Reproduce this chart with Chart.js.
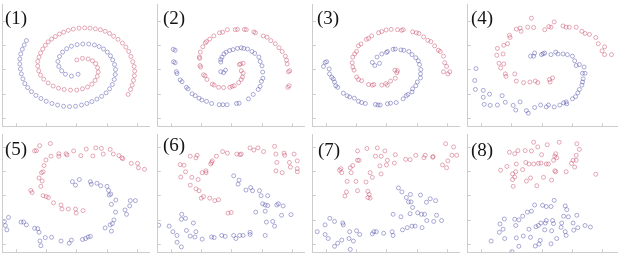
<!DOCTYPE html>
<html>
<head>
<meta charset="utf-8">
<script src="https://cdn.jsdelivr.net/npm/chart.js@4"></script>
<style>
  body { margin: 0; background: #fff; width: 621px; height: 262px; position: relative; overflow: hidden; }
  .panel { position: absolute; }
  .lbl { position: absolute; font-family: "Liberation Serif", serif; font-size: 19px; line-height: 1; color: #151515; }
</style>
</head>
<body>
<script>
// point positions (units = 1/3 px, origin at each panel's crop corner)
const red1 = [[395,288],[403,272],[408,258],[412,243],[415,228],[416,213],[414,198],[410,183],[404,166],[397,150],[388,136],[377,123],[363,111],[349,101],[336,92],[322,85],[307,80],[291,77],[274,75],[257,74],[239,75],[221,78],[205,82],[190,88],[177,94],[164,102],[152,110],[141,119],[132,130],[124,142],[117,155],[112,168],[108,182],[108,197],[111,212],[117,226],[127,239],[141,251],[157,261],[174,268],[192,272],[212,274],[232,274],[250,270],[266,264],[280,255],[290,243],[297,230],[300,216],[298,202],[292,189],[282,180],[268,174],[250,172],[232,177]];
const blue1 = [[72,115],[65,129],[59,143],[54,158],[51,174],[51,190],[53,206],[56,222],[61,238],[67,253],[76,266],[88,279],[102,291],[118,301],[135,310],[153,317],[171,322],[190,326],[209,327],[228,326],[247,322],[264,317],[280,311],[296,303],[311,294],[325,283],[336,270],[345,256],[351,240],[354,224],[355,208],[352,192],[346,177],[339,164],[329,152],[317,142],[303,134],[288,129],[270,126],[251,126],[233,128],[215,133],[200,141],[187,152],[177,166],[172,182],[175,198],[184,212],[196,223],[215,229],[236,223]];

const red2 = [[410,265],[414,260],[412,215],[416,212],[408,190],[406,178],[402,165],[392,150],[382,138],[370,125],[356,115],[344,104],[332,100],[302,87],[307,90],[278,80],[272,79],[250,79],[243,80],[218,80],[203,88],[193,90],[175,100],[162,110],[152,118],[148,122],[140,135],[132,152],[129,168],[130,172],[131,195],[133,200],[142,225],[147,228],[153,240],[170,255],[176,258],[190,265],[206,266],[226,265],[233,262],[240,260],[254,250],[262,240],[266,232],[268,220],[262,212],[260,190],[268,188],[256,192]];
const blue2 = [[46,143],[52,146],[47,183],[52,186],[56,215],[58,221],[68,241],[74,247],[88,265],[93,270],[106,286],[116,292],[128,300],[137,306],[152,310],[168,317],[192,321],[204,321],[217,321],[247,317],[255,316],[285,302],[300,288],[316,272],[322,262],[326,246],[331,236],[330,216],[328,196],[322,182],[318,168],[305,156],[296,150],[282,142],[270,140],[262,138],[250,140],[236,144],[225,147],[214,152],[207,158],[201,168],[197,176],[197,184],[197,215],[206,218],[212,210]];

const red3 = [[418,215],[432,222],[438,215],[428,198],[422,186],[418,165],[408,150],[402,146],[390,132],[378,118],[368,114],[355,103],[340,92],[332,90],[320,87],[290,80],[285,82],[272,80],[252,79],[236,81],[222,86],[212,90],[190,100],[180,108],[173,111],[156,126],[148,132],[142,150],[136,158],[130,168],[128,186],[130,200],[134,210],[142,232],[148,240],[158,244],[180,256],[192,258],[197,256],[222,258],[235,253],[240,258],[250,245],[265,236],[270,218],[264,210],[272,212]];
const blue3 = [[42,185],[47,183],[37,198],[55,206],[56,222],[63,233],[68,238],[72,248],[76,260],[82,265],[100,284],[112,292],[120,296],[135,300],[148,310],[158,314],[170,317],[202,320],[210,322],[217,322],[240,318],[250,316],[268,314],[290,302],[300,292],[305,288],[318,280],[320,270],[330,260],[335,248],[345,235],[345,222],[346,208],[342,192],[338,180],[330,170],[318,160],[308,150],[292,146],[283,145],[265,142],[258,143],[240,150],[237,153],[222,158],[207,168],[192,185],[200,195],[215,188]];

const red4 = [[208,43],[160,78],[172,75],[175,85],[196,72],[215,73],[250,80],[263,70],[270,72],[280,55],[308,68],[318,72],[328,72],[350,72],[368,85],[378,92],[392,95],[412,105],[420,125],[440,135],[432,148],[440,160],[462,160],[138,98],[140,105],[120,130],[132,125],[100,140],[98,162],[118,158],[105,188],[120,190],[110,203],[125,222],[127,230],[155,222],[160,245],[183,250],[203,248],[220,245],[228,250],[265,240],[275,235],[267,248]];
const blue4 = [[32,205],[28,243],[30,272],[55,275],[75,287],[55,297],[58,320],[77,323],[115,292],[125,313],[100,322],[150,323],[158,338],[172,312],[192,340],[198,348],[218,330],[237,322],[255,328],[262,322],[280,328],[298,322],[310,315],[318,312],[320,318],[338,302],[348,295],[355,283],[360,272],[368,258],[370,248],[372,238],[370,220],[378,220],[375,200],[360,192],[345,180],[350,195],[338,165],[322,160],[308,158],[292,158],[285,152],[270,160],[250,155],[245,157],[240,160],[218,155],[215,165],[205,165]];

const red5 = [[98,58],[104,57],[114,41],[148,34],[150,75],[175,67],[175,75],[198,67],[201,71],[222,58],[245,73],[262,52],[283,74],[292,48],[310,50],[316,68],[338,53],[348,68],[366,73],[375,80],[378,83],[405,98],[425,98],[428,112],[447,117],[134,87],[128,105],[125,125],[120,128],[112,145],[122,155],[118,172],[86,185],[90,192],[125,202],[135,205],[142,208],[158,225],[182,232],[185,245],[205,245],[228,245],[230,258],[252,250]];
const blue5 = [[218,157],[228,168],[240,150],[275,157],[278,165],[296,162],[308,170],[328,172],[333,185],[335,200],[340,197],[356,216],[342,230],[355,255],[385,248],[400,235],[402,218],[418,218],[390,262],[350,280],[345,292],[338,296],[322,306],[342,316],[275,333],[268,335],[260,340],[250,343],[215,345],[208,355],[182,348],[152,336],[132,337],[115,348],[118,363],[112,320],[98,307],[108,308],[72,296],[63,287],[55,287],[15,272],[5,298],[10,312],[2,285]];

const red6 = [[100,75],[118,80],[122,72],[68,102],[80,104],[85,125],[70,142],[105,143],[125,150],[138,128],[150,128],[150,122],[165,100],[170,90],[168,95],[183,75],[203,60],[218,65],[248,68],[258,70],[262,68],[290,48],[302,55],[315,48],[333,60],[368,43],[372,68],[398,65],[400,72],[430,68],[440,90],[415,95],[418,110],[375,95],[372,122],[392,128],[440,115],[440,125],[100,168],[118,180],[128,186],[135,210],[142,205],[162,210],[178,218],[190,215],[220,258],[230,256]];
const blue6 = [[238,138],[255,152],[252,165],[277,184],[292,176],[298,186],[320,186],[325,202],[346,202],[330,228],[338,232],[346,234],[375,232],[380,228],[395,235],[338,252],[308,255],[342,287],[362,285],[368,300],[390,265],[420,263],[73,262],[72,278],[85,275],[110,290],[33,300],[0,297],[45,318],[58,330],[88,314],[100,332],[118,318],[115,335],[138,342],[168,335],[176,337],[200,330],[211,333],[238,330],[245,340],[257,330],[268,330],[290,320],[290,327],[338,330],[58,352],[72,367]];

const red7 = [[145,58],[175,50],[208,48],[232,58],[202,75],[220,75],[145,88],[150,88],[240,88],[237,103],[216,106],[185,128],[192,143],[220,132],[262,97],[265,70],[298,85],[312,86],[330,72],[356,80],[360,72],[384,78],[385,76],[425,35],[450,45],[445,72],[460,72],[432,90],[415,103],[428,112],[92,115],[95,128],[88,120],[122,112],[130,105],[125,128],[112,156],[140,156],[172,158],[178,188],[182,198],[178,208],[185,210],[145,186],[110,190],[105,203]];
const blue7 = [[275,177],[286,190],[300,208],[313,198],[307,222],[320,240],[315,222],[345,200],[376,212],[364,223],[393,218],[258,262],[283,270],[312,260],[336,257],[348,262],[358,262],[396,265],[365,282],[387,285],[412,282],[288,312],[303,305],[318,300],[328,300],[350,305],[255,318],[258,330],[228,323],[197,318],[192,325],[205,318],[152,327],[142,315],[120,318],[132,348],[118,340],[95,345],[82,355],[72,365],[122,375],[98,290],[100,296],[72,285],[57,275],[42,296],[42,327],[52,340],[17,318]];

const red8 = [[215,30],[296,30],[352,35],[360,53],[138,62],[155,67],[165,57],[188,57],[208,58],[228,45],[258,38],[285,67],[282,75],[240,70],[255,100],[262,100],[278,88],[288,80],[350,72],[340,88],[350,88],[335,98],[345,110],[412,133],[318,125],[282,122],[285,125],[230,98],[238,97],[215,100],[190,95],[200,100],[160,100],[180,118],[130,108],[110,120],[148,132],[155,142],[158,125],[148,150],[150,172],[192,155],[205,145],[225,170],[246,143],[272,152]];
const blue8 = [[280,217],[315,235],[320,247],[310,268],[325,270],[243,233],[255,237],[270,237],[218,232],[208,252],[195,255],[180,268],[168,280],[155,278],[158,298],[122,277],[108,293],[118,310],[106,320],[80,348],[123,340],[160,338],[182,332],[200,310],[205,336],[222,302],[230,298],[238,290],[252,290],[255,282],[275,282],[278,292],[250,312],[272,315],[304,290],[302,304],[315,318],[318,330],[288,340],[270,357],[236,346],[232,358],[220,364],[168,365],[146,382],[340,290],[352,265],[342,313],[355,305],[378,298],[395,303]];

const labels = ["(1)", "(2)", "(3)", "(4)", "(5)", "(6)", "(7)", "(8)"];
const reds = [red1, red2, red3, red4, red5, red6, red7, red8];
const blues = [blue1, blue2, blue3, blue4, blue5, blue6, blue7, blue8];

// layout: crop origin of each panel, panel box and label spot
const crops = [[0,0],[155,0],[308,0],[462,0],[0,128],[155,128],[308,128],[462,128]];
const boxes = [[-1,0,154,130],[154,0,309,130],[309,0,464,130],[464,0,622,130],
               [-1,130,154,256],[154,130,309,256],[309,130,464,256],[464,130,622,256]];
const labelPos = [[5,8],[163,8],[317,8],[471,8],[5,139],[163,135],[318,140],[471,140]];

const axisColor = "#cdcdcd";

const innerTicks = {
  id: "innerTicks",
  afterDraw(chart) {
    const { ctx, chartArea: a, scales: { x, y } } = chart;
    ctx.save();
    ctx.strokeStyle = axisColor;
    ctx.lineWidth = 1;
    ctx.beginPath();
    for (let v = x.min + 42; v < x.max; v += 96) {
      const px = Math.round(x.getPixelForValue(v)) + 0.5;
      ctx.moveTo(px, a.bottom);
      ctx.lineTo(px, a.bottom - 3);
    }
    for (let v = y.max - 27; v > y.min; v -= 78) {
      const py = Math.round(y.getPixelForValue(v)) + 0.5;
      ctx.moveTo(a.left, py);
      ctx.lineTo(a.left + 3, py);
    }
    ctx.stroke();
    ctx.restore();
  }
};

const toPts = arr => arr.map(p => ({ x: p[0], y: p[1] }));

labels.forEach((lab, i) => {
  const [cx, cy] = crops[i];
  const [x0, y0, x1, y1] = boxes[i];

  const wrap = document.createElement("div");
  wrap.className = "panel";
  wrap.style.left = (x0 - 1) + "px";
  wrap.style.top = y0 + "px";
  wrap.style.width = (x1 - x0 + 1) + "px";
  wrap.style.height = (y1 - y0 + 1) + "px";
  const canvas = document.createElement("canvas");
  wrap.appendChild(canvas);
  document.body.appendChild(wrap);

  new Chart(canvas, {
    type: "scatter",
    data: {
      datasets: [
        { data: toPts(reds[i]), borderColor: "rgba(200,75,105,0.6)" },
        { data: toPts(blues[i]), borderColor: "rgba(80,80,170,0.6)" }
      ]
    },
    options: {
      responsive: true,
      maintainAspectRatio: false,
      animation: false,
      events: [],
      layout: { padding: { left: 1, bottom: 1, top: 0, right: 0 } },
      elements: {
        point: { pointStyle: "circle", radius: 2, borderWidth: 0.8, backgroundColor: "rgba(0,0,0,0)" }
      },
      plugins: { legend: { display: false }, tooltip: { enabled: false } },
      scales: {
        x: {
          type: "linear",
          min: (x0 - cx) * 3,
          max: (x1 - cx) * 3,
          ticks: { display: false },
          grid: { drawOnChartArea: false, drawTicks: false, color: axisColor },
          border: { display: true, color: axisColor }
        },
        y: {
          type: "linear",
          reverse: true,
          min: (y0 - cy) * 3,
          max: (y1 - cy) * 3,
          ticks: { display: false },
          grid: { drawOnChartArea: false, drawTicks: false, color: axisColor },
          border: { display: true, color: axisColor }
        }
      }
    },
    plugins: [innerTicks]
  });

  const l = document.createElement("div");
  l.className = "lbl";
  l.textContent = lab;
  l.style.left = labelPos[i][0] + "px";
  l.style.top = labelPos[i][1] + "px";
  document.body.appendChild(l);
});
</script>
</body>
</html>
